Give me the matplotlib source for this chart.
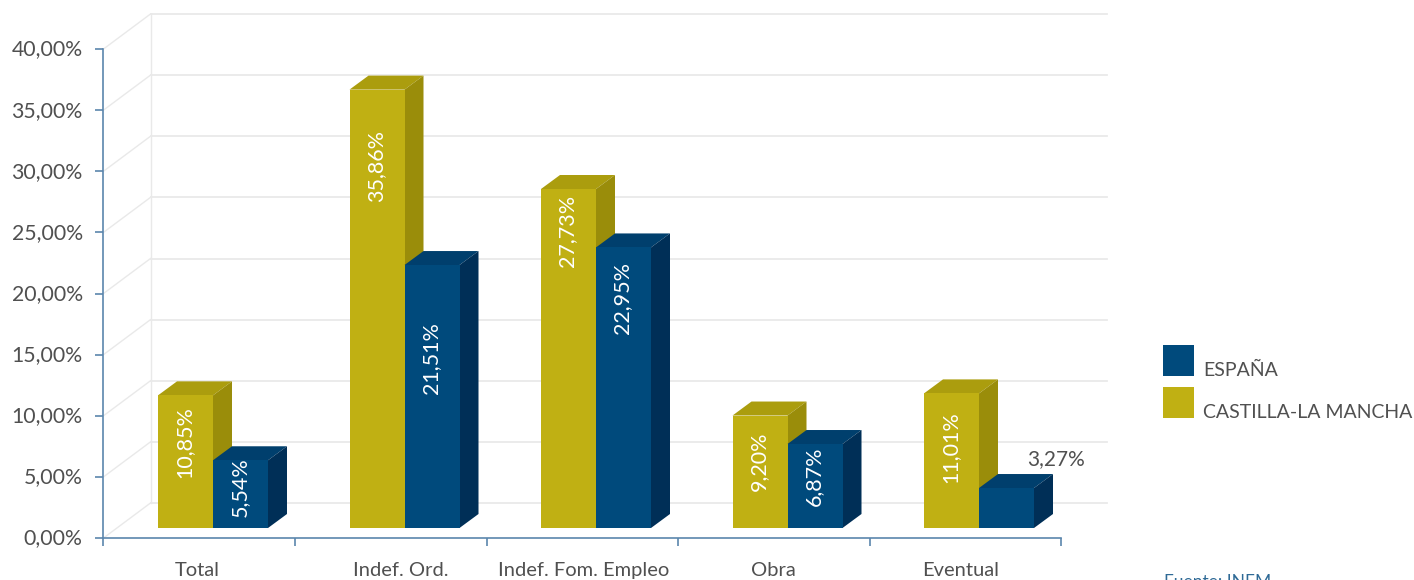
import matplotlib
matplotlib.use('Agg')
import matplotlib.pyplot as plt
from matplotlib.patches import Polygon, Rectangle
from matplotlib.transforms import ScaledTranslation

plt.rcParams['font.family'] = ['Lato', 'DejaVu Sans']

categories = ['Total', 'Indef. Ord.', 'Indef. Fom. Empleo', 'Obra', 'Eventual']
clm_values = [10.85, 35.86, 27.73, 9.20, 11.01]
esp_values = [5.54, 21.51, 22.95, 6.87, 3.27]
clm_labels = ['10,85%', '35,86%', '27,73%', '9,20%', '11,01%']
esp_labels = ['5,54%', '21,51%', '22,95%', '6,87%', '3,27%']
yticks = [0, 5, 10, 15, 20, 25, 30, 35, 40]
ylabels = ['0,00%', '5,00%', '10,00%', '15,00%', '20,00%', '25,00%', '30,00%', '35,00%', '40,00%']

# px below bar top for the rotated labels, the source is not consistent
clm_drop = [47, 76, 42, 46, 54]
esp_drop = [27, 93, 51, 32, 0]
label_shift = [-2, 10, 1, 0, -5]

W, H = 1414, 580
PX_X = 191.5   # px per category
PX_Y = 12.225  # px per percent
X0, Y0 = 199.25, 538

GOLD = ('#c0b013', '#ab9d0e', '#9a8d0a')
BLUE = ('#004a7c', '#003f6d', '#002f57')
TEXT = '#505050'
AXIS = '#5b86ad'
GRID = '#e9e9e9'


def dx(p):
    return p / PX_X


def dy(p):
    return p / PX_Y


def bar3d(ax, x, v, width, cols):
    # front face sits 10px above the floor line, depth goes 19 right 14 up
    base = dy(10)
    top = base + v
    ox, oy = dx(19), dy(14)
    w = dx(width)
    ax.add_patch(Polygon([(x, top), (x + w, top), (x + w + ox, top + oy), (x + ox, top + oy)],
                         fc=cols[1], ec='none', zorder=3))
    ax.add_patch(Polygon([(x + w, base), (x + w + ox, base + oy), (x + w + ox, top + oy), (x + w, top)],
                         fc=cols[2], ec='none', zorder=3))
    ax.add_patch(Rectangle((x, base), w, v, fc=cols[0], ec='none', zorder=3))


fig = plt.figure(figsize=(W / 100, H / 100), dpi=100)
ax = fig.add_axes([0, 0, 1, 1])
ax.set_xlim((0 - X0) / PX_X, (W - X0) / PX_X)
ax.set_ylim((Y0 - H) / PX_Y, Y0 / PX_Y)
ax.patch.set_alpha(0)

# back wall and side wall grid
left, right = -0.5, 4.5
wall_dx, wall_dy = dx(47), dy(35)
for t in yticks:
    ax.plot([left + wall_dx, right + dx(46)], [t + wall_dy, t + wall_dy], color=GRID, lw=1.3, zorder=1)
    ax.plot([left, left + wall_dx], [t, t + wall_dy], color=GRID, lw=1.0, zorder=1)
ax.plot([left + wall_dx, left + wall_dx], [wall_dy, 40 + wall_dy], color=GRID, lw=1.0, zorder=1)

# bars
bar_w = 55
shift = 13.75
for i in range(len(categories)):
    c = i + dx(shift)
    bar3d(ax, c - dx(bar_w), clm_values[i], bar_w, GOLD)
    bar3d(ax, c, esp_values[i], bar_w, BLUE)
    ax.text(c - dx(bar_w / 2) - dx(1), dy(10) + clm_values[i] - dy(clm_drop[i]), clm_labels[i],
            color='white', rotation=90, ha='center', va='center', fontsize=15.5, zorder=5)
    if esp_drop[i]:
        ax.text(c + dx(bar_w / 2) - dx(1), dy(10) + esp_values[i] - dy(esp_drop[i]), esp_labels[i],
                color='white', rotation=90, ha='center', va='center', fontsize=15.5, zorder=5)
    else:
        ax.text(c + dx(bar_w / 2) + dx(50), dy(10) + esp_values[i] + dy(29), esp_labels[i],
                color=TEXT, ha='center', va='center', fontsize=15, zorder=5)

# axes
for s in ['top', 'right']:
    ax.spines[s].set_visible(False)
ax.spines['left'].set_position(('data', left))
ax.spines['left'].set_bounds(0, 40)
ax.spines['bottom'].set_position(('data', 0))
ax.spines['bottom'].set_bounds(left, right)
ax.spines['left'].set_color(AXIS)
ax.spines['bottom'].set_color(AXIS)
ax.spines['left'].set_linewidth(1.2)
ax.spines['bottom'].set_linewidth(1.2)

ax.set_yticks(yticks, ylabels)
ax.tick_params(axis='y', length=6, width=1.2, color=AXIS, pad=9, labelsize=15.3, labelcolor=TEXT)
for lab in ax.get_yticklabels():
    lab.set_transform(lab.get_transform() + ScaledTranslation(0, 1.5 / 100, fig.dpi_scale_trans))
ax.set_xticks([left + k for k in range(6)], [''] * 6)
ax.tick_params(axis='x', which='major', length=6, width=1.2, color=AXIS)
ax.set_xticks([i + dx(label_shift[i]) for i in range(len(categories))], categories, minor=True)
ax.tick_params(axis='x', which='minor', length=0, pad=17, labelsize=14.5, labelcolor=TEXT)

# legend, drawn by hand to sit where the original has it
def to_x(px):
    return (px - X0) / PX_X


def to_y(py):
    return (Y0 - py) / PX_Y


for top_px, col, name in [(345, BLUE[0], 'ESPAÑA'), (387, GOLD[0], 'CASTILLA-LA MANCHA')]:
    ax.add_patch(Rectangle((to_x(1163), to_y(top_px + 31)), dx(31), dy(31), fc=col, ec='none', clip_on=False))
    ax.text(to_x(1203), to_y(top_px + 31), name, color=TEXT, fontsize=14, va='baseline')

ax.text(to_x(1164), to_y(587), 'Fuente: INEM', color='#2f6a96', fontsize=12.5, va='baseline')

fig.savefig('out.png', dpi=100)
